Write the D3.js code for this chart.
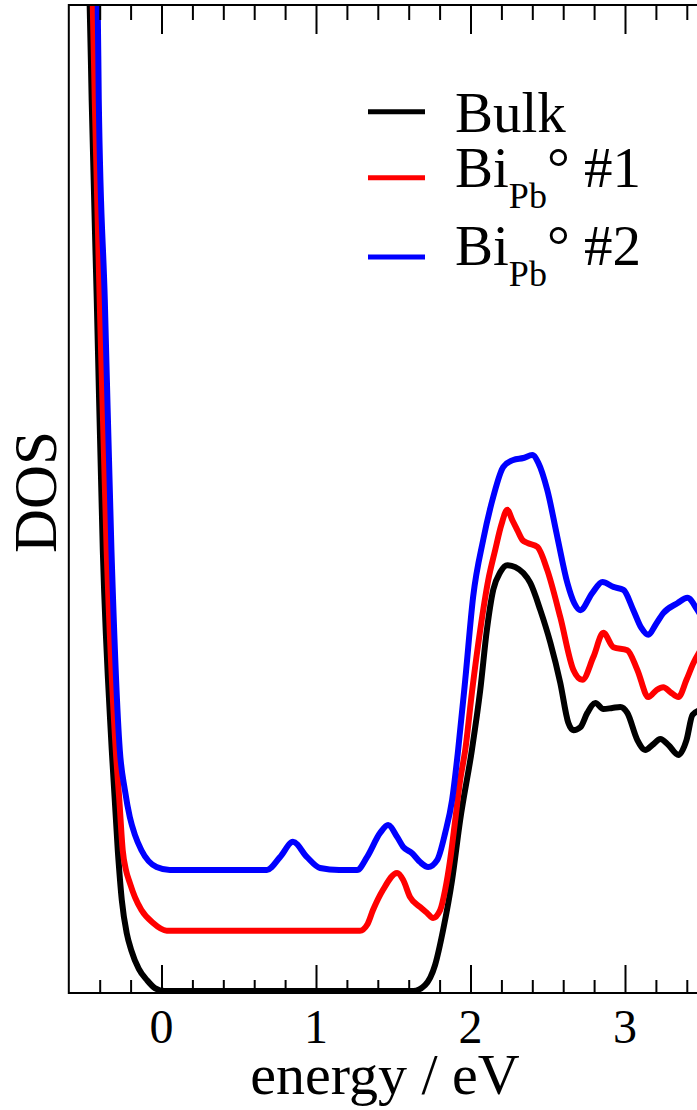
<!DOCTYPE html>
<html>
<head>
<meta charset="utf-8">
<script src="https://cdnjs.cloudflare.com/ajax/libs/d3/7.8.5/d3.min.js"></script>
</head>
<body style="margin:0; font-family: 'Liberation Serif', 'Times New Roman', serif;">
<svg id="chart" width="697" height="1110"></svg>
<script>
// energy (eV) and DOS (arb. units)
const bulkE = [-0.478, -0.465, -0.452, -0.419, -0.380, -0.322, -0.283, -0.257, -0.225, -0.196, -0.147, -0.094, -0.043, 0.021,
  0.5, 1.2, 1.629, 1.706, 1.771, 1.823, 1.881, 1.933, 2.009, 2.063, 2.106, 2.147, 2.193, 2.238, 2.290, 2.342, 2.387,
  2.452, 2.517, 2.581, 2.633, 2.666, 2.711, 2.756, 2.808, 2.860, 2.918, 2.970, 3.015, 3.080, 3.131, 3.177,
  3.229, 3.281, 3.346, 3.398, 3.437, 3.489];
const bulkD = [20.71, 20.0, 18.08, 14.03, 8.97, 4.92, 2.89, 1.88, 1.21, 0.87, 0.49, 0.26, 0.10, 0.04,
  0.04, 0.04, 0.04, 0.16, 0.57, 1.28, 2.29, 3.50, 4.92, 6.13, 7.35, 8.16, 8.52, 8.66, 8.62, 8.50, 8.30,
  7.75, 7.09, 6.28, 5.47, 5.32, 5.38, 5.67, 5.87, 5.75, 5.77, 5.79, 5.67, 5.12, 4.92, 5.02,
  5.14, 5.02, 4.82, 5.12, 5.63, 5.73];

const bi1E = [-0.458, -0.445, -0.432, -0.400, -0.355, -0.296, -0.273, -0.251, -0.230, -0.205, -0.172, -0.130, -0.056, 0.034,
  0.5, 1.0, 1.285, 1.331, 1.369, 1.434, 1.525, 1.564, 1.609, 1.674, 1.719, 1.758, 1.804, 1.836, 1.868, 1.901,
  1.933, 1.966, 2.011, 2.063, 2.115, 2.160, 2.199, 2.238, 2.271, 2.303, 2.336, 2.368, 2.433, 2.497,
  2.581, 2.666, 2.724, 2.795, 2.860, 2.925, 3.015, 3.080, 3.151, 3.203, 3.248, 3.294, 3.346, 3.398,
  3.443, 3.489];
const bi1D = [20.71, 20.0, 18.08, 14.03, 8.97, 4.92, 3.91, 2.89, 2.49, 2.23, 1.94, 1.68, 1.42, 1.26,
  1.26, 1.26, 1.26, 1.38, 1.68, 2.09, 2.43, 2.29, 1.94, 1.74, 1.62, 1.52, 1.68, 2.09, 2.69, 3.50,
  4.31, 4.92, 6.13, 7.35, 8.36, 8.97, 9.47, 9.78, 9.57, 9.37, 9.17, 9.11, 9.03, 8.56,
  7.61, 6.54, 6.34, 6.80, 7.29, 7.00, 6.94, 6.54, 5.99, 6.13, 6.19, 6.09, 5.99, 6.34,
  6.68, 6.94];

const bi2E = [-0.426, -0.413, -0.406, -0.367, -0.324, -0.270, -0.237, -0.205, -0.172, -0.130, -0.032, 0.054,
  0.3, 0.682, 0.767, 0.851, 0.942, 1.026, 1.15, 1.266, 1.330, 1.415, 1.467, 1.525, 1.564, 1.622, 1.674, 1.726,
  1.784, 1.836, 1.881, 1.920, 1.966, 2.017, 2.082, 2.147, 2.212, 2.277, 2.342, 2.400, 2.439, 2.497,
  2.562, 2.627, 2.672, 2.711, 2.789, 2.854, 2.925, 2.990, 3.054, 3.106, 3.151, 3.197, 3.248, 3.339,
  3.404, 3.469, 3.508];
const bi2D = [20.71, 20.0, 18.08, 14.03, 8.97, 4.92, 4.11, 3.56, 3.20, 2.89, 2.55, 2.49,
  2.49, 2.49, 2.75, 3.06, 2.75, 2.53, 2.49, 2.49, 2.75, 3.24, 3.40, 3.16, 2.96, 2.83, 2.65, 2.55,
  2.69, 3.24, 3.91, 4.92, 6.34, 8.02, 9.17, 10.04, 10.65, 10.79, 10.83, 10.89, 10.73, 10.18,
  9.23, 8.30, 7.89, 7.75, 8.10, 8.32, 8.22, 8.16, 7.75, 7.39, 7.25, 7.45, 7.69, 7.89,
  8.00, 7.75, 7.55];

const seriesColors = ["#000000", "#ff0000", "#0000ff"];
const majorTicks = [0, 1, 2, 3];
const minorTicks = [-0.4, -0.2, 0.2, 0.4, 0.6, 0.8, 1.2, 1.4, 1.6, 1.8, 2.2, 2.4, 2.6, 2.8, 3.2, 3.4];

const fontName = "Liberation Serif";
const svg = d3.select("#chart");
const plotL = 68.8, plotR = 717.7, plotT = 5, plotB = 993;

const x = d3.scaleLinear().domain([-0.6, 3.6]).range([plotL, plotR]);
const y = d3.scaleLinear().domain([0, 20]).range([plotB, plotT]);

svg.append("defs").append("clipPath").attr("id", "plot")
  .append("rect").attr("x", plotL).attr("y", plotT).attr("width", plotR - plotL).attr("height", plotB - plotT);

const series = [
  { e: bulkE, d: bulkD, color: seriesColors[0] },
  { e: bi1E, d: bi1D, color: seriesColors[1] },
  { e: bi2E, d: bi2D, color: seriesColors[2] }
];

const line = d3.line().x(p => x(p[0])).y(p => y(p[1])).curve(d3.curveMonotoneX);

svg.append("g").attr("clip-path", "url(#plot)")
  .selectAll("path").data(series).enter().append("path")
  .attr("d", s => line(d3.zip(s.e, s.d)))
  .attr("fill", "none")
  .attr("stroke", s => s.color)
  .attr("stroke-width", 6)
  .attr("stroke-linejoin", "round");

// axes, ticks pointing inwards
function tickAxis(axis, vals, size, ty) {
  const g = svg.append("g").attr("transform", `translate(0,${ty})`)
    .call(axis(x).tickValues(vals).tickSize(size).tickFormat(""));
  g.select(".domain").remove();
  g.selectAll("line").attr("stroke", "#000").attr("stroke-width", 2);
  return g;
}
tickAxis(d3.axisBottom, minorTicks, -13, plotB);
tickAxis(d3.axisBottom, majorTicks, -28, plotB);
tickAxis(d3.axisTop, minorTicks, -15, plotT);
tickAxis(d3.axisTop, majorTicks, -29, plotT);

// frame
svg.append("rect").attr("x", plotL).attr("y", plotT)
  .attr("width", plotR - plotL).attr("height", plotB - plotT)
  .attr("fill", "none").attr("stroke", "#000").attr("stroke-width", 2);

// serif text helper: attribute plus inline style
function serifText(sel) {
  return sel.attr("font-family", fontName)
    .attr("style", "font-family: 'Liberation Serif', 'Times New Roman', serif");
}

serifText(svg.selectAll("text.tick-label").data(majorTicks).enter().append("text"))
  .attr("class", "tick-label")
  .attr("x", d => x(d)).attr("y", 1043)
  .attr("text-anchor", "middle").attr("font-size", 48)
  .text(d => d);

serifText(svg.append("text")).attr("x", 385).attr("y", 1094)
  .attr("text-anchor", "middle").attr("font-size", 58)
  .text("energy / eV");

serifText(svg.append("text")).attr("transform", "translate(56,492) rotate(-90)")
  .attr("text-anchor", "middle").attr("font-size", 61)
  .text("DOS");

// legend
const legendY = [111.7, 177.7, 257];
const legendBase = [131.7, 186.7, 265];
const legendNum = ["", "#1", "#2"];
svg.selectAll("line.legend").data(series).enter().append("line")
  .attr("class", "legend")
  .attr("x1", 368).attr("x2", 425)
  .attr("y1", (s, i) => legendY[i]).attr("y2", (s, i) => legendY[i])
  .attr("stroke", s => s.color).attr("stroke-width", 5);

serifText(svg.append("text")).attr("x", 455).attr("y", legendBase[0]).attr("font-size", 57).text("Bulk");
[1, 2].forEach(i => {
  const t = serifText(svg.append("text")).attr("x", 455).attr("y", legendBase[i]).attr("font-size", 57);
  t.append("tspan").text("Bi");
  t.append("tspan").attr("dy", 21).attr("font-size", 36).text("Pb");
  t.append("tspan").attr("dy", -21).text("\u00b0 " + legendNum[i]);
});
</script>
</body>
</html>
